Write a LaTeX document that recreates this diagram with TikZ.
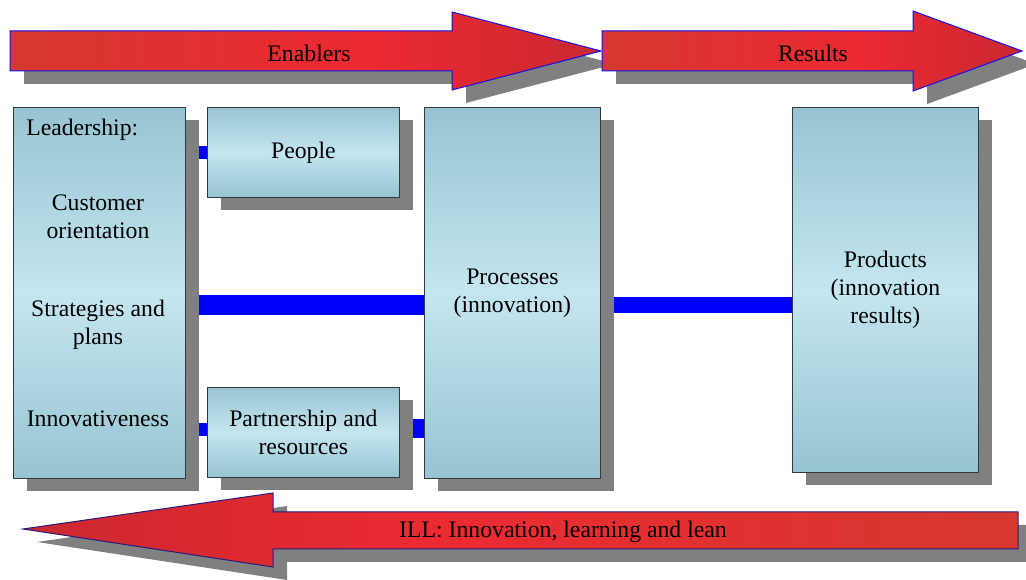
\documentclass[tikz,border=0pt]{standalone}
\usepackage{fontspec}
\setmainfont{Liberation Serif}
\newfontfamily\diagfont{Liberation Serif}
\usetikzlibrary{shadows, backgrounds, positioning}

\definecolor{boxedge}{HTML}{97C4D2}
\definecolor{boxmid}{HTML}{C4E6F0}
\definecolor{boxline}{HTML}{303A40}
\definecolor{shadowgray}{HTML}{808080}
\definecolor{linkblue}{HTML}{0000FF}
\definecolor{reddark}{HTML}{A83230}
\definecolor{redband}{HTML}{B5262F}
\definecolor{redorange}{HTML}{D23A2E}
\definecolor{redbright}{HTML}{EC2A32}
\definecolor{arrowline}{HTML}{1010F0}
\definecolor{arrowlinedark}{HTML}{2A1A80}

\pgfdeclarehorizontalshading{redbar}{100bp}{color(0bp)=(reddark); color(6bp)=(redband); color(20bp)=(redorange); color(55bp)=(redbright); color(88bp)=(redband); color(100bp)=(reddark)}

\tikzset{
  boxshadow/.style={general shadow={fill=shadowgray, shadow xshift=10.5pt, shadow yshift=-9.75pt}},
  box/.style={draw=boxline, line width=0.6pt, top color=boxedge, bottom color=boxedge, middle color=boxmid,
    anchor=north west, inner sep=0pt, align=center, boxshadow},
  redarrow/.style={shading=redbar, draw=arrowline, line width=0.75pt, boxshadow},
  link/.style={draw=linkblue, line width=#1},
}

\begin{document}
\begin{tikzpicture}[x=0.75pt, y=-0.75pt, every node/.style={font=\diagfont\fontsize{17.8}{21}\selectfont}]
  \useasboundingbox (0,0) rectangle (1026,580);

  % top arrows
  \shadedraw[redarrow] (10,31) -- (452,31) -- (452,12) -- (601,51) -- (452,90) -- (452,71) -- (10,71) -- cycle;
  \shadedraw[redarrow] (602,31) -- (913,31) -- (913,11) -- (1022,51) -- (913,91) -- (913,71) -- (602,71) -- cycle;
  \node (enablers) at (309,53) {Enablers};
  \node (results) at (813,53) {Results};

  % bottom arrow
  \shadedraw[redarrow, shading angle=180, draw=arrowlinedark] (23,529) -- (273,493) -- (273,512) -- (1018,512) -- (1018,549) -- (273,549) -- (273,567) -- cycle;
  \node (ill) at (563,532) {ILL: Innovation, learning and lean};

  % boxes
  \node[box, minimum width=129pt, minimum height=278.25pt] (lead) at (13,107) {};
  \node[box, minimum width=144pt, minimum height=67.5pt] (people) at (207,107) {People};
  \node[box, minimum width=144pt, minimum height=67.5pt] (part) at (207,387) {Partnership and\\resources};
  \node[box, minimum width=132pt, minimum height=278.25pt] (proc) at (424,107) {Processes\\(innovation)};
  \node[box, minimum width=139.5pt, minimum height=273.75pt] (prod) at (792,107) {Products\\(innovation\\results)};

  % leadership texts
  \node[anchor=west, inner sep=0pt] (leadtitle) at (26,130) {Leadership:};
  \node[align=center] (custom) at (98,217) {Customer\\orientation};
  \node[align=center] (strat) at (98,325) {Strategies and\\plans};
  \node (innov) at (98,419) {Innovativeness};

  % connectors
  \begin{scope}[on background layer]
    \draw[link=9.75pt] (lead.east |- people.west) -- (people.west);
    \draw[link=15pt] (lead.east |- 0,305) -- (proc.west |- 0,305);
    \draw[link=9.75pt] (lead.east |- 0,430) -- (part.west |- 0,430);
    \draw[link=14.25pt] (part.east |- 0,429) -- (proc.west |- 0,429);
    \draw[link=12pt] (proc.east |- 0,305) -- (prod.west |- 0,305);
  \end{scope}
\end{tikzpicture}
\end{document}
